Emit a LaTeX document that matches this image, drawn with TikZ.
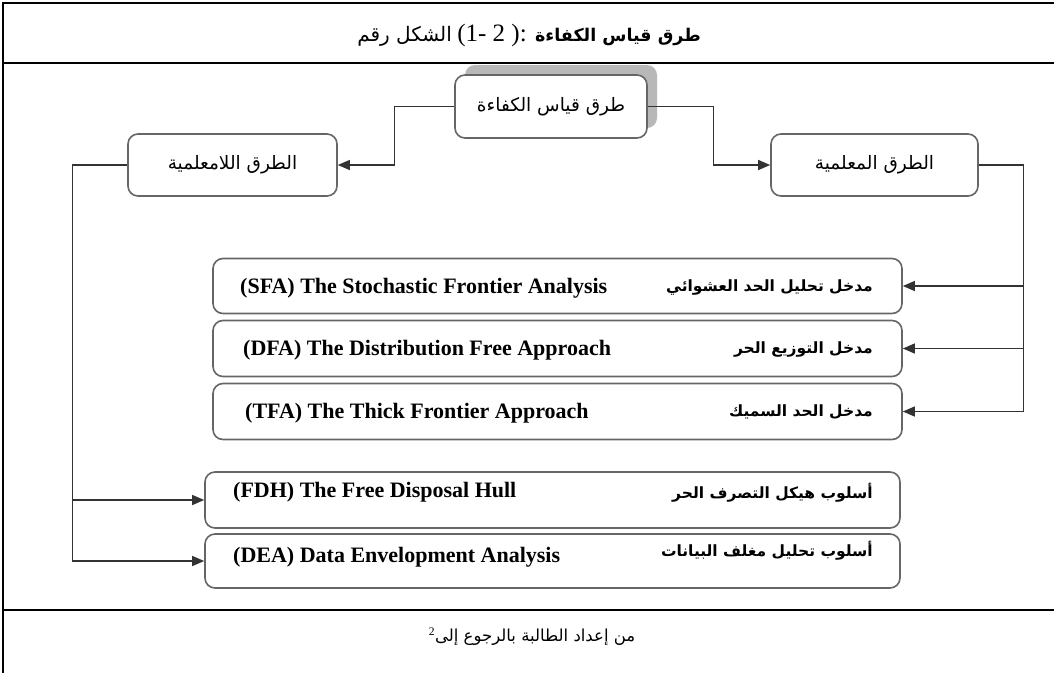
\documentclass[tikz,border=0pt]{standalone}
\usepackage{fontspec}
\setmainfont{Liberation Serif}
\newfontfamily\arabicfont[Script=Arabic]{DejaVu Sans}
\newfontfamily\enfont{Liberation Serif}
\TeXXeTstate=1
\usetikzlibrary{arrows.meta}
\begin{document}
\begin{tikzpicture}[x=1pt,y=-1pt,
  frame/.style={line width=2.4pt, draw=black},
  conn/.style={draw=black!80, line width=1.3pt, -{Triangle[length=12pt,width=10pt]}},
  trunk/.style={draw=black!80, line width=1.3pt},
  box/.style={draw=black!60, line width=1.6pt, rounded corners=10pt, fill=white, inner sep=0pt},
  en/.style={font=\enfont\bfseries\fontsize{22}{24}\selectfont, inner sep=0pt},
  arb/.style={font=\arabicfont\bfseries\fontsize{15.5}{18}\selectfont, inner sep=0pt},
  arn/.style={font=\arabicfont\fontsize{18.5}{21}\selectfont},
  ttl/.style={inner sep=0pt, anchor=base},
]
\useasboundingbox (0,0) rectangle (1054,673);
% table frame
\draw[frame] (1054,3) -- (3,3) -- (3,673);
\draw[frame] (3,63) -- (1054,63);
\draw[frame] (3,610) -- (1054,610);
% title (visual order, left to right)
\node[ttl, font=\enfont\fontsize{25}{28}\selectfont] (tmid) at (492,41) {(1- 2 ):};
\node[ttl, anchor=base east, font=\arabicfont\fontsize{20}{24}\selectfont] (tleft) at ([xshift=-5pt]tmid.base west) {\beginR الشكل رقم\endR};
\node[ttl, anchor=base west, font=\arabicfont\bfseries\fontsize{17.5}{22}\selectfont] (tright) at ([xshift=8pt]tmid.base east) {\beginR طرق قياس الكفاءة\endR};
% top node with shadow
\fill[black!28, rounded corners=10pt] (465,65) rectangle (657,128);
\node[box, arn, minimum width=192pt, minimum height=63pt] (top) at (551,106.5) {\beginR طرق قياس الكفاءة\endR};
\node[box, arn, minimum width=209pt, minimum height=62pt] (left) at (232.5,165) {\beginR الطرق اللامعلمية\endR};
\node[box, arn, minimum width=207pt, minimum height=62pt] (right) at (874.5,165) {\beginR الطرق المعلمية\endR};
% method boxes
\node[box, minimum width=689pt, minimum height=55pt] (sfa) at (557.5,286) {};
\node[box, minimum width=689pt, minimum height=56pt] (dfa) at (557.5,348.5) {};
\node[box, minimum width=689pt, minimum height=56pt] (tfa) at (557.5,411.5) {};
\node[box, minimum width=695pt, minimum height=56pt] (fdh) at (552.5,500) {};
\node[box, minimum width=695pt, minimum height=54pt] (dea) at (552.5,561) {};
% texts in boxes
\node[en, anchor=west] (sfaE) at (240,288) {(SFA) The Stochastic Frontier Analysis};
\node[en, anchor=west] (dfaE) at (243,350) {(DFA) The Distribution Free Approach};
\node[en, anchor=west] (tfaE) at (245,413) {(TFA) The Thick Frontier Approach};
\node[en, anchor=west] (fdhE) at (233,492) {(FDH) The Free Disposal Hull};
\node[en, anchor=west] (deaE) at (233,557) {(DEA) Data Envelopment Analysis};
\node[arb, anchor=east] (sfaA) at (873,287) {\beginR مدخل تحليل الحد العشوائي\endR};
\node[arb, anchor=east] (dfaA) at (873,349) {\beginR مدخل التوزيع الحر\endR};
\node[arb, anchor=east] (tfaA) at (873,412) {\beginR مدخل الحد السميك\endR};
\node[arb, anchor=east] (fdhA) at (873,493) {\beginR أسلوب هيكل التصرف الحر\endR};
\node[arb, anchor=east] (deaA) at (873,551) {\beginR أسلوب تحليل مغلف البيانات\endR};
% connectors
\draw[conn] (top.west) -- ++(-60,0) |- (left.east);
\draw[conn] (top.east) -- ++(66,0) |- (right.west);
\draw[trunk] (right.east) -- ++(45,0) coordinate (rt);
\draw[conn] (rt) |- (sfa.east);
\draw[conn] (rt) |- (dfa.east);
\draw[conn] (rt) |- (tfa.east);
\draw[trunk] (left.west) -- ++(-55,0) coordinate (lt);
\draw[conn] (lt) |- (fdh.west);
\draw[conn] (lt) |- (dea.west);
% source
\node[inner sep=0pt] (src) at (532,637) {\arabicfont\fontsize{16.5}{20}\selectfont\beginR من إعداد الطالبة بالرجوع إلى{\enfont\textsuperscript{2}}\endR};
\end{tikzpicture}
\end{document}
